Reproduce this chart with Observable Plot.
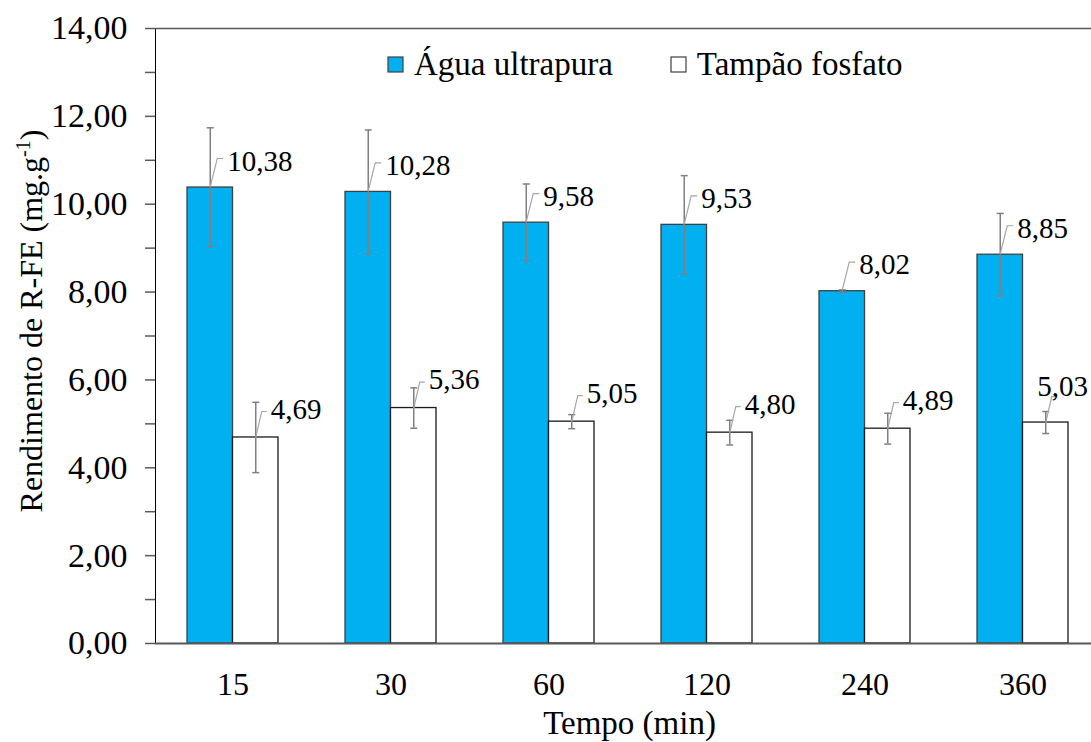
<!DOCTYPE html>
<html><head><meta charset="utf-8">
<script src="https://cdn.jsdelivr.net/npm/d3@7"></script>
<script src="https://cdn.jsdelivr.net/npm/@observablehq/plot@0.6"></script>
<style>
html,body{margin:0;padding:0;background:#fff;overflow:hidden;}
#wrap{position:relative;width:1091px;height:742px;}
#legend{position:absolute;left:388px;top:46px;}
#legend div{font-family:"Liberation Serif","Times New Roman",serif;font-size:33px;color:#000;margin:0;min-height:0;}
#legend span{margin-right:58px;}
#legend svg{margin-right:11px;overflow:visible;}
#legend svg rect{stroke:#404040;stroke-width:1.2px;}
</style></head><body><div id="wrap"><div id="legend"></div></div>
<script>
// ---- data ----
const tempos = ["15", "30", "60", "120", "240", "360"];
const series = ["Água ultrapura", "Tampão fosfato"];
const agua = [10.38, 10.28, 9.58, 9.53, 8.02, 8.85];
const aguaErro = [1.36, 1.41, 0.88, 1.12, 0.03, 0.94];
const tampao = [4.69, 5.36, 5.05, 4.80, 4.89, 5.03];
const tampaoErro = [0.80, 0.46, 0.16, 0.28, 0.35, 0.25];
const yTicks = [0, 1, 2, 3, 4, 5, 6, 7, 8, 9, 10, 11, 12, 13, 14];
const xLabel = "Tempo (min)";
const yLabel = "Rendimento de R-FE (mg.g-1)";

const rowsA = tempos.map((t, i) => ({tempo: t, serie: series[0], valor: agua[i], erro: aguaErro[i]}));
const rowsT = tempos.map((t, i) => ({tempo: t, serie: series[1], valor: tampao[i], erro: tampaoErro[i]}));
const fmt = v => v.toFixed(2).replace(".", ",");

const leaderBlue = {draw(c) { c.moveTo(0, -1); c.lineTo(7, -29); c.lineTo(13, -29); }};
const leaderWhite = {draw(c) { c.moveTo(0, 0); c.lineTo(6, -26); c.lineTo(11, -26); }};
const cap = {draw(c) { c.moveTo(-3.5, 0); c.lineTo(3.5, 0); }};
const half = 22.75;

function bars(rows, side) {
  return Plot.barY(rows, {x: "tempo", y: "valor", fill: "serie",
    stroke: side < 0 ? "#404040" : "#1a1a1a", strokeWidth: 1.3,
    insetLeft: side < 0 ? 0 : 45.5, insetRight: side < 0 ? 45.5 : 0});
}
function errs(rows, side) {
  return [
    Plot.ruleX(rows, {x: "tempo", y1: d => d.valor - d.erro, y2: d => d.valor + d.erro, dx: side * half, stroke: "#808080", strokeWidth: 1.5}),
    Plot.dot(rows, {x: "tempo", y: d => d.valor + d.erro, symbol: cap, dx: side * half, fill: "none", stroke: "#808080", strokeWidth: 1.5}),
    Plot.dot(rows, {x: "tempo", y: d => d.valor - d.erro, symbol: cap, dx: side * half, fill: "none", stroke: "#808080", strokeWidth: 1.5})
  ];
}
function labels(rows, side, ldx, ldy, leader) {
  return [
    Plot.dot(rows, {x: "tempo", y: "valor", symbol: leader, dx: side * half, fill: "none", stroke: "#a6a6a6", strokeWidth: 1.2}),
    Plot.text(rows, {x: "tempo", y: "valor", text: d => fmt(d.valor), dx: side * half + ldx, dy: ldy,
      textAnchor: "start", lineAnchor: "middle", fontSize: 29, fill: "#000", className: "dlabel"})
  ];
}

const plot = Plot.plot({
  width: 1091,
  height: 742,
  marginTop: 28,
  marginBottom: 99,
  marginLeft: 155,
  marginRight: 0,
  style: {fontFamily: "'Liberation Serif', 'Times New Roman', serif", fontSize: "32px", color: "#000", background: "#fff", overflow: "hidden"},
  x: {domain: tempos, range: [154, 1102], paddingInner: 0.424, paddingOuter: 0.212, tickSize: 0, tickPadding: 29, label: null},
  y: {domain: [0, 14], ticks: yTicks, tickFormat: d => d % 2 ? "" : fmt(d), tickSize: 10, tickPadding: 18, label: null, line: true},
  color: {domain: series, range: ["#00b0f0", "#ffffff"]},
  marks: [
    bars(rowsA, -1),
    bars(rowsT, 1),
    Plot.ruleY([14], {stroke: "#595959", strokeWidth: 1.5}),
    Plot.ruleY([0], {stroke: "#595959", strokeWidth: 2}),
    errs(rowsA, -1),
    errs(rowsT, 1),
    labels(rowsA, -1, 17, -26, leaderBlue),
    labels(rowsT, 1, 15, -28, leaderWhite),
    Plot.text([{t: xLabel}], {text: "t", frameAnchor: "bottom", textAnchor: "middle", lineAnchor: "middle", dx: 6, dy: 80, fontSize: 33, fill: "#000"}),
    Plot.text([{t: yLabel}], {text: "t", frameAnchor: "left", textAnchor: "middle", lineAnchor: "middle", rotate: -90, dx: -124, dy: -15, fontSize: 32, fill: "#000"})
  ]
});
document.getElementById("wrap").prepend(plot);

// superscript in the y label
d3.select(plot).selectAll("text").filter(function () { return this.textContent === yLabel; })
  .each(function () {
    const t = d3.select(this).text(null);
    t.append("tspan").text("Rendimento de R-FE (mg.g");
    t.append("tspan").attr("dy", -12).style("font-size", "20px").text("-1");
    t.append("tspan").attr("dy", 12).text(")");
  });
// axis colour and tick label size
d3.select(plot).selectAll('[aria-label^="y-axis"] path, [aria-label^="y-axis"] line, .domain')
  .attr("stroke", "#595959").attr("stroke-width", 1.5);
d3.select(plot).selectAll('[aria-label^="y-axis"] text').style("font-size", "34px");

// keep data labels inside the picture (shift left and up when they overflow)
d3.select(plot).selectAll("text").filter(function () { return /^\d+,\d\d$/.test(this.textContent) && !this.closest('[aria-label^="y-axis"]'); })
  .each(function () {
    const r = this.getBoundingClientRect();
    const ov = r.right - 1088;
    if (ov > 0) {
      const tr = this.getAttribute("transform") || "";
      this.setAttribute("transform", `translate(${-ov},-8) ${tr}`);
    }
  });

const lg = plot.legend("color", {swatchSize: 15, className: "lg"});
document.getElementById("legend").append(lg);
</script></body></html>
